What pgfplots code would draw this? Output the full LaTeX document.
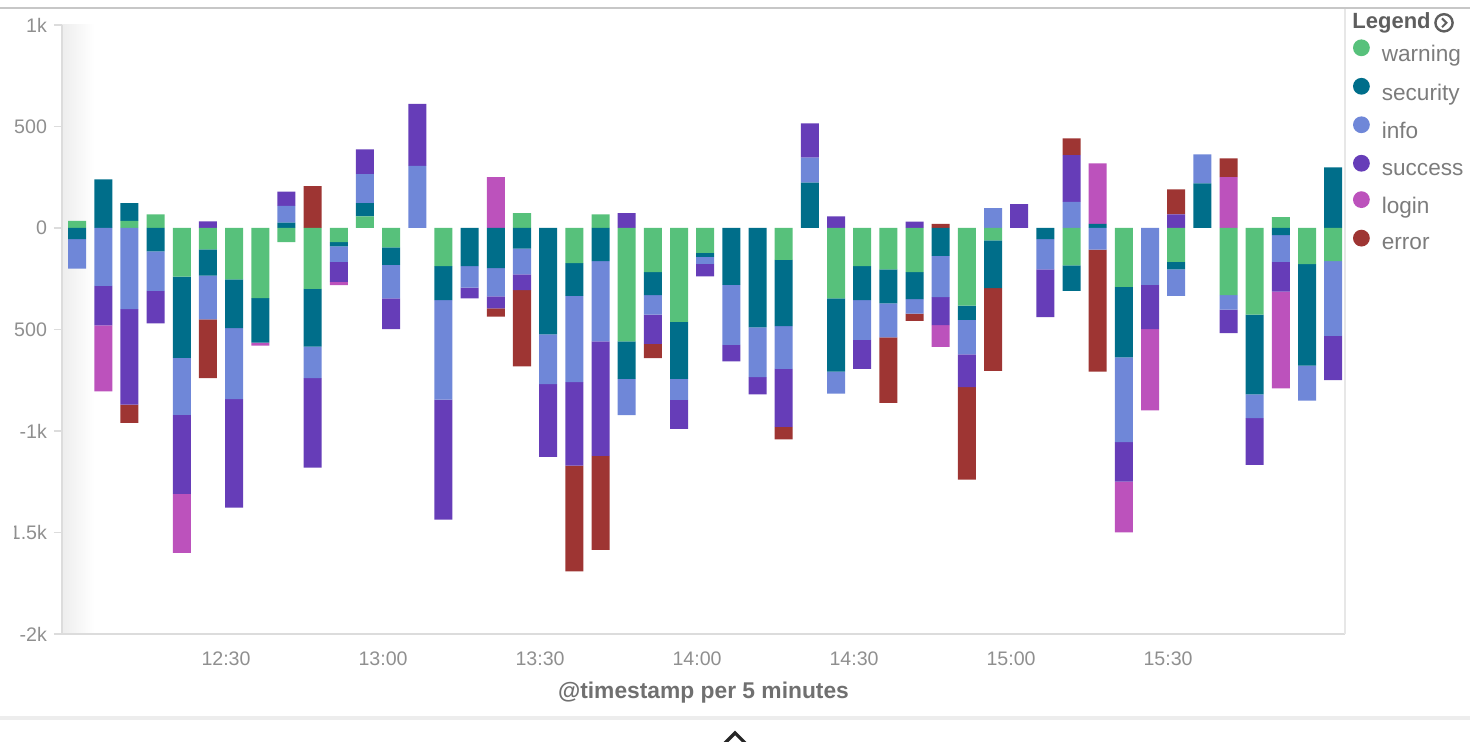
\documentclass[border=0pt]{standalone}
\usepackage{fontspec}
\setmainfont{Liberation Sans}
\usepackage{pgfplots}
\usepackage{pgfplotstable}
\pgfplotsset{compat=1.18}

\definecolor{cwarn}{HTML}{57C17B}
\definecolor{csec}{HTML}{006E8A}
\definecolor{cinfo}{HTML}{6F87D8}
\definecolor{csucc}{HTML}{663DB8}
\definecolor{clogin}{HTML}{BC52BC}
\definecolor{cerr}{HTML}{9E3533}
\definecolor{tickgray}{HTML}{8F8F8F}
\definecolor{labgray}{HTML}{707070}
\definecolor{leggray}{HTML}{7C7C7C}
\definecolor{headgray}{HTML}{5E5E5E}
\definecolor{linegray}{HTML}{DCDCDC}

% t = minutes after 12:00 (start of each 5 minute bucket)
% positive part of every bucket
\pgfplotstableread{
t   warn sec info succ login err
0   35   0   0    0    0     0
5   0    240 0    0    0     0
10  35   87  0    0    0     0
15  67   0   0    0    0     0
20  0    0   0    0    0     0
25  0    0   0    33   0     0
30  0    0   0    0    0     0
35  0    0   0    0    0     0
40  0    27  82   70   0     0
45  0    0   0    0    0     206
50  0    0   0    0    0     0
55  57   65  143  122  0     0
60  0    0   0    0    0     0
65  0    0   306  306  0     0
70  0    0   0    0    0     0
75  0    0   0    0    0     0
80  0    0   0    0    251   0
85  73   0   0    0    0     0
90  0    0   0    0    0     0
95  0    0   0    0    0     0
100 67   0   0    0    0     0
105 0    0   0    73   0     0
110 0    0   0    0    0     0
115 0    0   0    0    0     0
120 0    0   0    0    0     0
125 0    0   0    0    0     0
130 0    0   0    0    0     0
135 0    0   0    0    0     0
140 0    224 122  169  0     0
145 0    0   0    57   0     0
150 0    0   0    0    0     0
155 0    0   0    0    0     0
160 0    0   0    31   0     0
165 0    0   0    0    0     20
170 0    0   0    0    0     0
175 0    0   98   0    0     0
180 0    0   0    118  0     0
185 0    0   0    0    0     0
190 0    0   129  230  0     82
195 0    20  0    0    298   0
200 0    0   0    0    0     0
205 0    0   0    0    0     0
210 0    0   0    67   0     123
215 0    220 143  0    0     0
220 0    0   0    0    251   92
225 0    0   0    0    0     0
230 53   0   0    0    0     0
235 0    0   0    0    0     0
240 0    298 0    0    0     0
}\pos

% negative part of every bucket
\pgfplotstableread{
t   warn sec  info succ login err
0   0    -55  -145 0    0     0
5   0    0    -285 -195 -325  0
10  0    0    -400 -470 0     -90
15  0    -115 -195 -160 0     0
20  -240 -400 -280 -390 -290  0
25  -105 -130 -215 0    0     -290
30  -253 -240 -350 -535 0     0
35  -345 -220 0    0    -15   0
40  -70  0    0    0    0     0
45  -300 -285 -155 -440 0     0
50  -70  -20  -77  -98  -17   0
55  0    0    0    0    0     0
60  -96  -86  -165 -151 0     0
65  0    0    0    0    0     0
70  -188 -167 -490 -592 0     0
75  0    -188 -106 -53  0     0
80  0    -198 -139 -59  0     -41
85  0    -102 -127 -77  0     -376
90  0    -524 -245 -358 0     0
95  -173 -162 -424 -412 0     -521
100 0    -163 -396 -563 0     -464
105 -559 -184 -179 0    0     0
110 -218 -113 -96  -144 0     -70
115 -463 -280 -104 -143 0     0
120 -122 -20  -35  -61  0     0
125 0    -280 -296 -81  0     0
130 0    -490 -245 -85  0     0
135 -157 -327 -210 -286 0     -61
140 0    0    0    0    0     0
145 -347 -361 -108 0    0     0
150 -188 -167 -196 -143 0     0
155 -204 -167 -168 0    0     -322
160 -218 -133 -71  0    0     -35
165 0    -137 -204 -137 -108  0
170 -382 -71  -169 -162 0     -455
175 -61  -235 0    0    0     -408
180 0    0    0    0    0     0
185 0    -55  -149 -235 0     0
190 -184 -126 0    0    0     0
195 0    0    -106 0    0     -602
200 -290 -347 -418 -194 -251  0
205 0    0    -280 -218 -400  0
210 -167 -37  -131 0    0     0
215 0    0    0    0    0     0
220 -331 0    -71  -116 0     0
225 -427 -393 -117 -230 0     0
230 0    -35  -132 -147 -476  0
235 -178 -500 -173 0    0     0
240 -163 0    -368 -218 0     0
}\negs

\pgfplotsset{
  frame/.style={
    at={(0,0)}, anchor=south west,
    scale only axis, width=641.5pt, height=304.5pt,
    xmin=-1.34, xmax=243.8, ymin=-2000, ymax=1000,
    ybar stacked, bar width=3.44,
  },
}

\begin{document}
\begin{tikzpicture}
% faint shadow along the left edge of the plot
\shade[left color=black!7, right color=white] (0,0) rectangle (16pt,304.5pt);

\begin{axis}[frame,
  axis line style={draw=none},
  xtick={30,60,...,210},
  xticklabels={12:30,13:00,13:30,14:00,14:30,15:00,15:30},
  ytick={-2000,-1500,...,1000},
  yticklabels={-2k,-1.5k,-1k,-500,0,500,1k},
  xtick pos=bottom, ytick pos=left,
  tick align=outside, major tick length=4pt,
  x tick style={draw=none}, y tick style={draw=linegray, line width=0.8pt},
  ticklabel style={font=\fontsize{9.8}{11}\selectfont, text=tickgray},
  xticklabel style={yshift=-1.5pt},
  /pgf/number format/assume math mode=true,
  xlabel={@timestamp per 5 minutes},
  xlabel style={at={(rel axis cs:0.5,0)}, anchor=center, yshift=-29.5pt,
    font=\bfseries\fontsize{11.4}{13}\selectfont, text=labgray},
  legend style={at={(rel axis cs:1,1)}, anchor=north west,
    xshift=3.8pt, yshift=-7pt, draw=none, fill=none, inner sep=0pt,
    row sep=5.6pt, /tikz/column sep=5pt,
    font=\fontsize{11.3}{13}\selectfont, text=leggray,
    nodes={inner sep=1pt}},
  legend cell align=left,
  legend image code/.code={\fill[#1] (4.2pt,3.6pt) circle (4.2pt);},
]
\addplot+[fill=cwarn,  draw=none] table[x expr=\thisrow{t}+1.55, y=warn]  {\pos};
\addplot+[fill=csec,   draw=none] table[x expr=\thisrow{t}+1.55, y=sec]   {\pos};
\addplot+[fill=cinfo,  draw=none] table[x expr=\thisrow{t}+1.55, y=info]  {\pos};
\addplot+[fill=csucc,  draw=none] table[x expr=\thisrow{t}+1.55, y=succ]  {\pos};
\addplot+[fill=clogin, draw=none] table[x expr=\thisrow{t}+1.55, y=login] {\pos};
\addplot+[fill=cerr,   draw=none] table[x expr=\thisrow{t}+1.55, y=err]   {\pos};
\legend{warning,security,info,success,login,error}
\end{axis}

\begin{axis}[frame, hide axis]
\addplot+[fill=cwarn,  draw=none] table[x expr=\thisrow{t}+1.55, y=warn]  {\negs};
\addplot+[fill=csec,   draw=none] table[x expr=\thisrow{t}+1.55, y=sec]   {\negs};
\addplot+[fill=cinfo,  draw=none] table[x expr=\thisrow{t}+1.55, y=info]  {\negs};
\addplot+[fill=csucc,  draw=none] table[x expr=\thisrow{t}+1.55, y=succ]  {\negs};
\addplot+[fill=clogin, draw=none] table[x expr=\thisrow{t}+1.55, y=login] {\negs};
\addplot+[fill=cerr,   draw=none] table[x expr=\thisrow{t}+1.55, y=err]   {\negs};
\end{axis}

% the panel's left edge fades out over the first label characters
\fill[white] (-31pt,-54pt) rectangle (-24.2pt,311pt);

% frame lines of the panel
\draw[linegray, line width=1pt] (0,0) -- (0,304.5pt);
\draw[linegray, line width=1pt] (0,0) -- (641.5pt,0);
\draw[linegray!70, line width=0.8pt] (641.5pt,0) -- (641.5pt,313pt);
\draw[black!22, line width=0.8pt] (-31pt,313pt) -- (704pt,313pt);
\draw[black!7, line width=2pt] (-31pt,-42pt) -- (704pt,-42pt);
\draw[black!85, line width=1.6pt] (331pt,-55pt) -- (336.5pt,-49.5pt) -- (342pt,-55pt);

% legend header
\node[anchor=west, inner sep=0pt, font=\bfseries\fontsize{11}{13}\selectfont, text=headgray]
  at (645pt,305.6pt) {Legend};
\draw[headgray, line width=1.2pt] (691pt,305.6pt) circle (4.3pt);
\draw[headgray, line width=1pt] (690pt,307.8pt) -- (692.2pt,305.6pt) -- (690pt,303.4pt);

\pgfresetboundingbox
\useasboundingbox (-31pt,-54pt) rectangle (704pt,317pt);
\end{tikzpicture}
\end{document}
